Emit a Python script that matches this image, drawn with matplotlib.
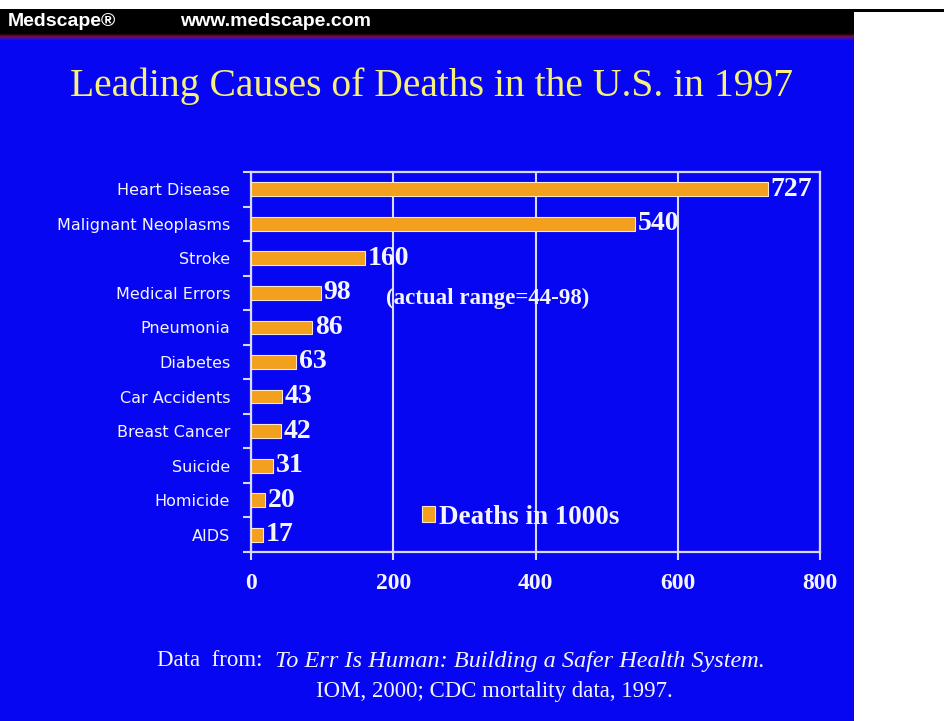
import numpy as np
import matplotlib
matplotlib.use("Agg")
import matplotlib.pyplot as plt
from matplotlib.patches import Rectangle, Patch
from matplotlib.ticker import FixedLocator

# Data: deaths in thousands, U.S. 1997
causes = ["Heart Disease", "Malignant Neoplasms", "Stroke", "Medical Errors",
          "Pneumonia", "Diabetes", "Car Accidents", "Breast Cancer",
          "Suicide", "Homicide", "AIDS"]
deaths = [727, 540, 160, 98, 86, 63, 43, 42, 31, 20, 17]
x_ticks = [0, 200, 400, 600, 800]
series_name = "Deaths in 1000s"
range_note = "(actual range=44-98)"

BLUE = "#0606F2"
ORANGE = "#F2A01E"
LINE = "#D8D8F8"
TEXT = "#F4F4FF"
SERIF = ["Liberation Serif", "DejaVu Serif"]
SANS = ["Liberation Sans", "DejaVu Sans"]

W, H = 945, 721
fig = plt.figure(figsize=(W / 100, H / 100), dpi=100, facecolor="white")

def fx(px):
    return px / W

def fy(py):
    return 1 - py / H

# Slide background and header band
panel_right = 854
fig.patches.append(Rectangle((0, 0), fx(panel_right), fy(40), transform=fig.transFigure,
                             facecolor=BLUE, edgecolor="none", zorder=-10))
fig.patches.append(Rectangle((0, fy(34)), fx(panel_right), fy(9) - fy(34),
                             transform=fig.transFigure, facecolor="black",
                             edgecolor="none", zorder=-10))
fig.patches.append(Rectangle((fx(panel_right), fy(12)), 1 - fx(panel_right), fy(9) - fy(12),
                             transform=fig.transFigure, facecolor="black",
                             edgecolor="none", zorder=-10))
# red-to-blue gradient stripe under the header
grad_ax = fig.add_axes([0, fy(41), fx(panel_right), fy(33) - fy(41)])
grad = np.array([[0.02, 0.0, 0.02], [0.35, 0.02, 0.12], [0.45, 0.05, 0.35],
                 [0.2, 0.05, 0.75], [0.03, 0.02, 0.95]])[:, None, :]
grad_ax.imshow(grad, aspect="auto", interpolation="bilinear")
grad_ax.set_axis_off()

fig.text(fx(8), fy(21), "Medscape\u00ae", color="white", fontsize=14,
         fontweight="bold", family=SANS, va="center", ha="left")
fig.text(fx(180), fy(21), "www.medscape.com", color="white", fontsize=14,
         fontweight="bold", family=SANS, va="center", ha="left")

fig.text(fx(432), fy(86), "Leading Causes of Deaths in the U.S. in 1997",
         color="#F6F07C", fontsize=28.5, family=SERIF,
         ha="center", va="center")

# Main chart
ax = fig.add_axes([fx(251), fy(552), fx(820) - fx(251), fy(172) - fy(552)])
ax.set_facecolor("none")
y = np.arange(len(causes))
bars = ax.barh(y, deaths, height=0.4, color=ORANGE, edgecolor="#F8E8C8",
               linewidth=0.8, zorder=3)
ax.set_xlim(0, 800)
ax.set_ylim(len(causes) - 0.5, -0.5)

for sp in ax.spines.values():
    sp.set_color(LINE)
    sp.set_linewidth(1.6)

ax.set_xticks(x_ticks)
ax.set_xticklabels([str(t) for t in x_ticks], family=SERIF, fontweight="bold",
                   fontsize=17, color=TEXT)
ax.tick_params(axis="x", direction="out", length=6, width=1.5, color=LINE, pad=9)
ax.grid(axis="x", color=LINE, linewidth=1.5, zorder=1)

ax.set_yticks(y)
ax.set_yticklabels(causes, family=["DejaVu Sans"], fontsize=11.5, color=TEXT)
ax.tick_params(axis="y", which="major", length=0, pad=15)
ax.yaxis.set_minor_locator(FixedLocator(np.arange(-0.5, len(causes), 1.0)))
ax.tick_params(axis="y", which="minor", direction="out", length=6, width=1.5,
               color=LINE)

ax.bar_label(bars, labels=[str(d) for d in deaths], padding=2, family=SERIF,
             fontweight="bold", fontsize=20, color=TEXT)

ax.text(190, 3.15, range_note, family=SERIF, fontweight="bold", fontsize=16.5,
        color=TEXT, va="center", ha="left")

leg = ax.legend(handles=[Patch(facecolor=ORANGE, edgecolor="#F8E8C8", linewidth=0.8,
                               label=series_name)],
                loc="center left", bbox_to_anchor=(0.30, 0.092), frameon=False,
                handlelength=0.5, handleheight=0.5, handletextpad=0.15,
                borderpad=0, borderaxespad=0,
                prop={"family": SERIF, "weight": "bold", "size": 19.5})
for t in leg.get_texts():
    t.set_color(TEXT)

# Source note
fig.text(fx(157), fy(661), "Data  from: ", color=TEXT, family=SERIF, fontsize=16.5,
         ha="left", va="center")
fig.text(fx(275), fy(661), "To Err Is Human: Building a Safer Health System.",
         color=TEXT, family=SERIF, style="italic", fontsize=17.5, ha="left", va="center")
fig.text(fx(494), fy(692), "IOM, 2000; CDC mortality data, 1997.", color=TEXT,
         family=SERIF, fontsize=16.5, ha="center", va="center")

fig.savefig("out.png", dpi=100, facecolor="white")
